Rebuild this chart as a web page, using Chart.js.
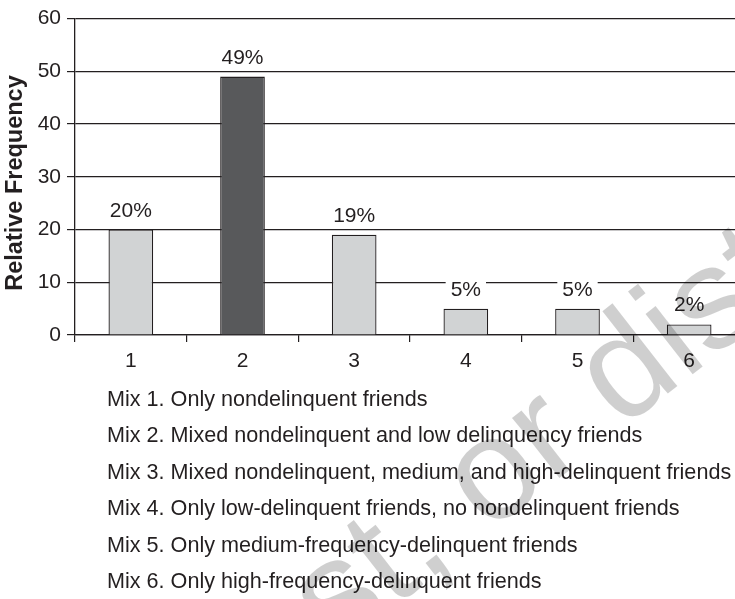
<!DOCTYPE html>
<html>
<head>
<meta charset="utf-8">
<script src="https://cdn.jsdelivr.net/npm/chart.js@4.4.1/dist/chart.umd.min.js"></script>
<style>
  html, body { margin: 0; padding: 0; background: #fff; overflow: hidden; }
  #wrap { position: relative; width: 745px; height: 599px; }
</style>
</head>
<body>
<div id="wrap"><canvas id="myChart"></canvas></div>
<script>
const mixes = ["1", "2", "3", "4", "5", "6"];
const frequency = [20, 49, 19, 5, 5, 2];
const barColors = ["#d1d3d4", "#58595b", "#d1d3d4", "#d1d3d4", "#d1d3d4", "#d1d3d4"];
const yTicks = [0, 10, 20, 30, 40, 50, 60];
const mixLabels = [
  "Mix 1. Only nondelinquent friends",
  "Mix 2. Mixed nondelinquent and low delinquency friends",
  "Mix 3. Mixed nondelinquent, medium, and high-delinquent friends",
  "Mix 4. Only low-delinquent friends, no nondelinquent friends",
  "Mix 5. Only medium-frequency-delinquent friends",
  "Mix 6. Only high-frequency-delinquent friends",
];
const yTitle = "Relative Frequency";
const watermark = "Do not copy, post, or distribute";

const ink = "#231f20";
const font = "'Liberation Sans', Arial, Helvetica, sans-serif";

// percent labels above the bars, on a white patch so grid lines break behind them
const valueLabels = {
  id: "valueLabels",
  afterDatasetsDraw(chart) {
    const ctx = chart.ctx;
    const meta = chart.getDatasetMeta(0);
    ctx.save();
    ctx.font = "21px " + font;
    ctx.textAlign = "center";
    ctx.textBaseline = "alphabetic";
    meta.data.forEach((bar, i) => {
      const txt = frequency[i] + "%";
      const w = ctx.measureText(txt).width;
      const base = bar.y - 13;
      ctx.fillStyle = "#fff";
      ctx.fillRect(bar.x - w / 2 - 5, base - 18, w + 10, 22);
      ctx.fillStyle = ink;
      ctx.fillText(txt, bar.x, base);
    });
    ctx.restore();
  }
};

// rotated axis title and the key lines under the chart
const extraText = {
  id: "extraText",
  afterDraw(chart) {
    const ctx = chart.ctx;
    const area = chart.chartArea;
    ctx.save();
    ctx.fillStyle = ink;
    ctx.font = "bold 23.5px " + font;
    ctx.textAlign = "center";
    ctx.textBaseline = "middle";
    ctx.translate(16, 183);
    ctx.rotate(-Math.PI / 2);
    ctx.fillText(yTitle, 0, 0);
    ctx.restore();

    ctx.save();
    ctx.fillStyle = ink;
    ctx.font = "21.6px " + font;
    ctx.textAlign = "left";
    ctx.textBaseline = "alphabetic";
    mixLabels.forEach((t, i) => {
      ctx.fillText(t, 107, area.bottom + 71 + i * 36.4);
    });
    ctx.restore();

    // faint diagonal stamp across the lower right
    ctx.save();
    ctx.font = "145px " + font;
    ctx.fillStyle = "rgba(0,0,0,0.19)";
    ctx.textBaseline = "alphabetic";
    ctx.textAlign = "left";
    ctx.translate(488, 534);
    ctx.rotate(-38 * Math.PI / 180);
    const lead = ctx.measureText("Do not copy, post, ").width;
    ctx.fillText(watermark, -lead, 0);
    ctx.restore();
  }
};

const data = {
  labels: mixes,
  datasets: [
    {
      data: frequency,
      backgroundColor: barColors,
      borderColor: ink,
      borderWidth: 1.3,
      barPercentage: 0.4,
      categoryPercentage: 1,
    },
  ],
};

const config = {
  type: "bar",
  data: data,
  options: {
    responsive: true,
    maintainAspectRatio: false,
    animation: false,
    layout: {
      padding: { top: 16, right: 0, bottom: 224, left: 0 },
    },
    plugins: {
      legend: { display: false },
      tooltip: { enabled: false },
    },
    scales: {
      x: {
        offset: true,
        grid: {
          offset: true,
          drawOnChartArea: false,
          drawTicks: true,
          tickLength: 7,
          color: ink,
          lineWidth: 1.2,
        },
        border: { color: ink, width: 1.3 },
        ticks: {
          color: ink,
          padding: 7,
          font: { size: 21, family: font },
        },
        afterFit(scale) {
          scale.height = 40;
        },
      },
      y: {
        min: 0,
        max: 60,
        afterBuildTicks(scale) {
          scale.ticks = yTicks.map(v => ({ value: v }));
        },
        grid: {
          color: ink,
          lineWidth: 1.2,
          tickLength: 8,
        },
        border: { color: ink, width: 1.3 },
        ticks: {
          color: ink,
          padding: 6,
          font: { size: 21, family: font },
        },
        afterFit(scale) {
          scale.width = 75;
        },
      },
    },
  },
  plugins: [valueLabels, extraText],
};

const myChart = new Chart(document.getElementById("myChart"), config);
</script>
</body>
</html>
